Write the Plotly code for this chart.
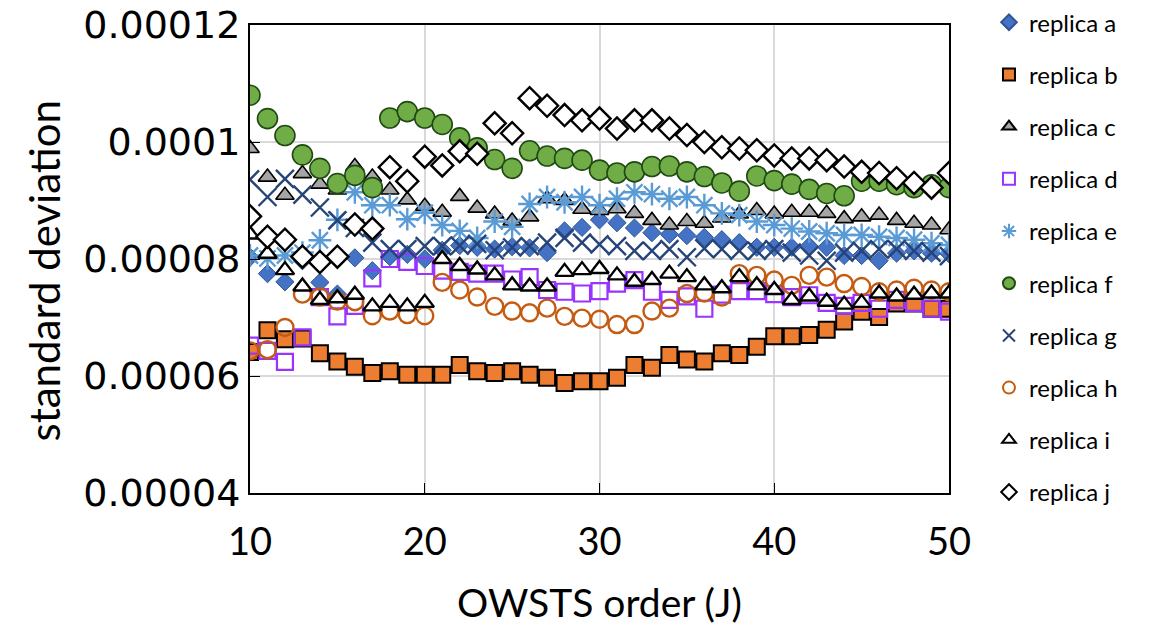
import numpy as np
import plotly.graph_objects as go

# OWSTS order J
J = list(range(10, 51))

# standard deviation values, in units of 1e-6
rep_a = [80.3, 77.5, 76.1, 79.7, 76.0, 74.0, 80.2, 78.0, 80.4, 80.8, 80.0, 81.5, 82.3, 82.0, 81.7, 82.1, 81.9, 81.1, 84.8, 85.4,
         86.7, 86.2, 85.3, 84.5, 84.2, 84.0, 83.7, 83.3, 82.8, 82.0, 82.0, 82.0, 82.2, 82.0, 80.6, 80.6, 79.7, 81.0, 81.4, 81.0, 80.9]
rep_b = [64.1, 67.8, 66.3, 66.4, 63.9, 62.5, 61.6, 60.5, 60.8, 60.2, 60.2, 60.2, 61.9, 60.8, 60.5, 60.8, 60.2, 59.7, 58.8, 59.1,
         59.1, 59.7, 61.9, 61.4, 63.6, 62.8, 62.5, 63.9, 63.6, 65.0, 66.8, 66.8, 67.0, 67.9, 69.3, 71.0, 70.1, 72.4, 72.4, 71.5, 71.5]
rep_c = [98.9, 94.0, 90.9, 94.6, 92.8, 91.8, 95.8, 94.0, 91.8, 90.1, 89.0, 88.0, 90.7, 88.7, 87.7, 86.5, 87.2, 90.3, 90.0, 88.5,
         88.3, 88.6, 87.8, 86.6, 85.8, 86.4, 86.1, 87.0, 87.7, 88.3, 87.7, 88.0, 88.0, 87.8, 86.9, 87.2, 87.5, 86.6, 86.1, 85.8, 85.0]
rep_d = [65.2, 64.3, 62.4, 66.6, 73.5, 70.2, 72.0, 76.7, 80.0, 79.5, 78.8, 78.0, 77.8, 77.5, 77.5, 76.5, 76.9, 74.7, 74.4, 74.1,
         74.5, 75.8, 76.4, 74.4, 73.0, 73.6, 71.5, 73.9, 74.5, 74.5, 74.0, 73.5, 73.8, 72.5, 72.0, 72.5, 71.5, 73.0, 72.5, 71.5, 71.0]
rep_e = [80.6, 80.1, 80.6, 81.1, 83.2, 86.7, 91.4, 89.2, 89.2, 86.8, 87.9, 85.8, 84.8, 83.6, 86.4, 85.5, 89.4, 90.6, 89.7, 90.6,
         89.2, 90.3, 91.4, 91.1, 90.3, 90.6, 89.2, 87.8, 87.5, 86.4, 85.8, 85.2, 84.7, 84.4, 84.1, 84.1, 83.8, 83.6, 83.3, 82.7, 82.4]
rep_f = [108.0, 104.0, 101.1, 97.8, 95.5, 92.9, 94.3, 92.2, 104.1, 105.2, 104.1, 103.0, 100.7, 99.0, 97.0, 95.5, 98.5, 97.6, 97.2, 96.9,
         95.2, 94.7, 94.9, 95.8, 95.9, 94.9, 94.1, 93.0, 91.6, 94.2, 93.4, 92.8, 91.9, 91.2, 90.8, 93.3, 93.3, 92.7, 92.2, 92.7, 92.2]
rep_g = [93.6, 90.6, 93.7, 91.0, 88.8, 86.6, 85.3, 82.8, 81.7, 81.7, 82.2, 82.2, 82.3, 82.6, 81.5, 82.0, 82.2, 82.8, 83.6, 82.8,
         82.5, 82.2, 81.4, 81.4, 81.7, 80.3, 81.8, 81.7, 81.4, 81.4, 81.7, 81.1, 80.6, 79.7, 81.1, 81.4, 81.7, 81.7, 81.4, 81.1, 80.5]
rep_h = [64.3, 64.5, 68.3, 74.0, 73.5, 72.8, 72.7, 70.3, 71.1, 70.5, 70.3, 76.0, 74.7, 73.5, 71.9, 71.1, 70.8, 71.6, 70.2, 69.9,
         69.7, 68.8, 68.8, 71.1, 71.6, 74.1, 74.2, 73.5, 77.5, 77.2, 76.4, 75.5, 77.2, 76.9, 75.8, 75.3, 74.4, 74.7, 75.0, 74.7, 74.4]
rep_i = [84.2, 80.9, 78.1, 75.3, 73.0, 73.3, 73.9, 71.9, 72.5, 71.9, 72.5, 80.0, 78.8, 78.2, 77.2, 75.5, 75.3, 75.3, 77.8, 78.1,
         78.3, 77.2, 76.1, 76.4, 77.5, 76.9, 75.5, 75.0, 76.9, 75.5, 74.7, 73.0, 73.6, 72.7, 72.2, 72.5, 74.1, 73.6, 73.9, 74.1, 74.1]
rep_j = [87.3, 83.8, 83.3, 80.4, 79.5, 80.4, 85.9, 85.2, 95.7, 93.3, 97.5, 96.0, 98.4, 98.0, 103.2, 101.5, 107.5, 106.2, 104.6, 103.7,
         104.0, 102.3, 103.7, 103.7, 102.3, 101.2, 100.0, 99.1, 98.9, 98.6, 97.7, 97.2, 97.2, 96.9, 95.8, 94.9, 94.7, 93.8, 93.0, 92.2, 94.7]

names = ["replica a", "replica b", "replica c", "replica d", "replica e",
         "replica f", "replica g", "replica h", "replica i", "replica j"]
series = [rep_a, rep_b, rep_c, rep_d, rep_e, rep_f, rep_g, rep_h, rep_i, rep_j]

y_tickvals = [0.00004, 0.00006, 0.00008, 0.0001, 0.00012]
y_ticktext = ["0.00004", "0.00006", "0.00008", "0.0001", "0.00012"]
x_tickvals = [10, 20, 30, 40, 50]

styles = [
    dict(symbol="diamond", size=14, color="#4472C4", line=dict(color="#2F5597", width=1)),
    dict(symbol="square", size=16, color="#ED7D31", line=dict(color="#000000", width=2)),
    dict(symbol="triangle-up", size=16, color="#A5A5A5", line=dict(color="#000000", width=1.6)),
    dict(symbol="square-open", size=16, color="#9933FF", line=dict(color="#9933FF", width=2.2)),
    dict(symbol="asterisk-open", size=19, color="#5B9BD5", line=dict(color="#5B9BD5", width=2.4)),
    dict(symbol="circle", size=20, color="#70AD47", line=dict(color="#1F4A12", width=1.6)),
    dict(symbol="x-thin-open", size=18, color="#264478", line=dict(color="#264478", width=2.4)),
    dict(symbol="circle-open", size=17, color="#C55A11", line=dict(color="#C55A11", width=2.4)),
    dict(symbol="triangle-up", size=16, color="#FFFFFF", line=dict(color="#000000", width=2.4)),
    dict(symbol="diamond", size=17, color="#FFFFFF", line=dict(color="#000000", width=2.4)),
]

fig = go.Figure()
for name, vals, st in zip(names, series, styles):
    fig.add_trace(go.Scatter(
        x=J, y=np.array(vals) * 1e-6, mode="markers", name=name,
        legendgroup=name, marker=st,
    ))

fig.update_layout(
    width=1154, height=642,
    margin=dict(l=250, r=205, t=25, b=149, autoexpand=False),
    paper_bgcolor="white", plot_bgcolor="white",
    font=dict(family="Lato", color="#000000"),
    showlegend=True,
    legend=dict(xref="container", yref="container", x=0.857, y=0.5995,
                xanchor="left", yanchor="middle",
                font=dict(family="Lato", size=24, color="#000000"),
                tracegroupgap=18, itemsizing="constant", maxheight=635,
                bgcolor="rgba(0,0,0,0)"),
    annotations=[dict(
        text="standard deviation", textangle=-90, showarrow=False,
        xref="paper", yref="paper", x=-0.295, y=0.475,
        xanchor="center", yanchor="middle",
        font=dict(family="Lato", size=42, color="#000000"),
    )],
)
fig.update_xaxes(
    range=[10, 50], tickvals=x_tickvals, ticks="inside", ticklen=10, tickcolor="#000000",
    showline=True, linecolor="#000000", linewidth=2, mirror=True, automargin=False,
    showgrid=True, gridcolor="#D9D9D9", gridwidth=1.5, zeroline=False,
    tickfont=dict(family="Lato", size=38), ticklabelstandoff=14, ticklabeloverflow="allow",
    title=dict(text="OWSTS order (J)", font=dict(family="Lato", size=39), standoff=28),
)
fig.update_yaxes(
    range=[0.00004, 0.00012], tickvals=y_tickvals, ticktext=y_ticktext,
    ticks="inside", ticklen=10, tickcolor="#000000",
    showline=True, linecolor="#000000", linewidth=2, mirror=True, automargin=False,
    showgrid=True, gridcolor="#D9D9D9", gridwidth=1.5, zeroline=False,
    tickfont=dict(family="DejaVu Sans", size=38), ticklabelstandoff=0, ticklabeloverflow="allow",
)

fig.write_html("out.html", config={"displayModeBar": False},
               post_script="document.body.style.margin='0px';")
